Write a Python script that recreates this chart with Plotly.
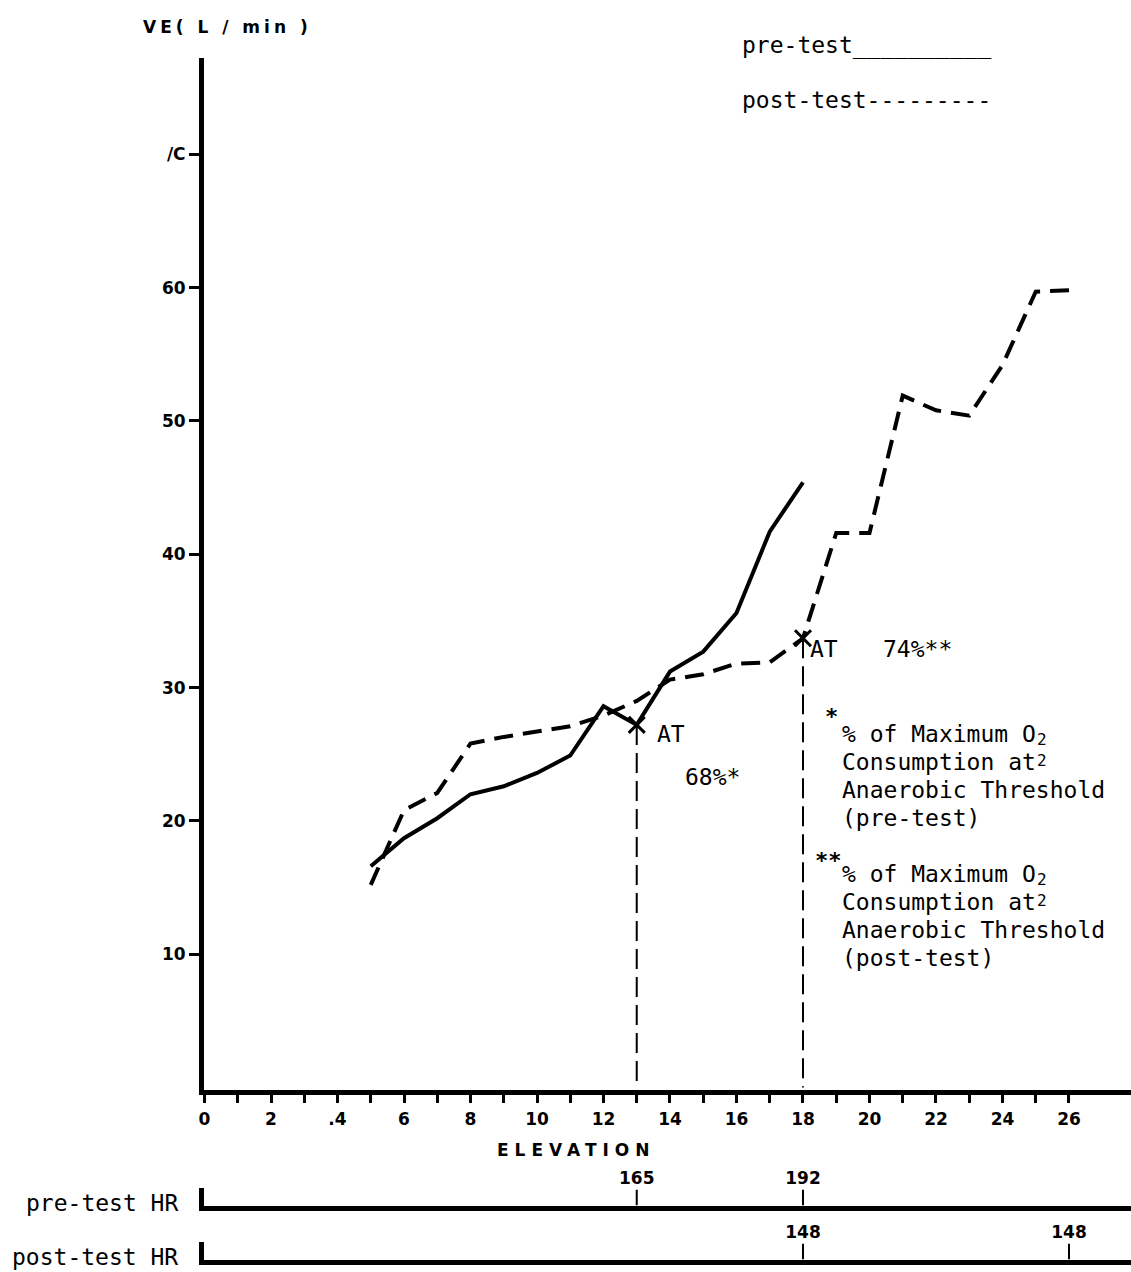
import plotly.graph_objects as go

# ---------------- data ----------------
elevation_pre = [5, 6, 7, 8, 9, 10, 11, 12, 13, 14, 15, 16, 17, 18]
ve_pre = [16.6, 18.7, 20.2, 22.0, 22.6, 23.6, 24.9, 28.6, 27.2, 31.2, 32.7, 35.6, 41.7, 45.4]

elevation_post = [5, 6, 7, 8, 9, 10, 11, 12, 13, 14, 15, 16, 17, 18, 19, 20, 21, 22, 23, 24, 25, 26]
ve_post = [15.2, 20.8, 22.1, 25.8, 26.3, 26.7, 27.1, 27.9, 29.0, 30.6, 31.0, 31.8, 31.9, 33.7,
           41.6, 41.6, 51.9, 50.8, 50.4, 54.2, 59.7, 59.8]

at_elevation = [13, 18]
at_ve = [27.2, 33.7]
at_pct_labels = ["68%*", "74%**"]

hr_pre_elev = [13, 18]
hr_pre_vals = ["165", "192"]
hr_post_elev = [18, 26]
hr_post_vals = ["148", "148"]

x_tickvals = [0, 2, 4, 6, 8, 10, 12, 14, 16, 18, 20, 22, 24, 26]
x_ticktext = ["0", "2", ".4", "6", "8", "10", "12", "14", "16", "18", "20", "22", "24", "26"]
x_minor_tickvals = [1, 3, 5, 7, 9, 11, 13, 15, 17, 19, 21, 23, 25]
y_tickvals = [10, 20, 30, 40, 50, 60, 70]
y_ticktext = ["10", "20", "30", "40", "50", "60", "/C"]

footnote_pre = ["% of Maximum O", "Consumption at", "Anaerobic Threshold", "(pre-test)"]
footnote_post = ["% of Maximum O", "Consumption at", "Anaerobic Threshold", "(post-test)"]
footnote_twos = "2<br>2"   # subscript of O and the stray superscript after "at"

# ---------------- style ----------------
MONO = "DejaVu Sans Mono"
BOLD = "DejaVu Sans"
BLACK = "black"
W, H = 1131, 1272
ML, MR, MT, MB = 204, 0, 58, 4
XR = [-0.015, 27.865]
MONO_SIZE = 23
CHAR_W = 0.602 * MONO_SIZE

fig = go.Figure()

# main curves
fig.add_trace(go.Scatter(x=elevation_pre, y=ve_pre, mode="lines",
                         line=dict(color=BLACK, width=4), xaxis="x", yaxis="y"))
fig.add_trace(go.Scatter(x=elevation_post, y=ve_post, mode="lines",
                         line=dict(color=BLACK, width=4, dash="19px,10px"), xaxis="x", yaxis="y"))

# anaerobic threshold drop lines and markers
for xe, ve in zip(at_elevation, at_ve):
    fig.add_trace(go.Scatter(x=[xe, xe], y=[ve, 0], mode="lines",
                             line=dict(color=BLACK, width=2, dash="20px,8px"), xaxis="x", yaxis="y"))
fig.add_trace(go.Scatter(x=at_elevation, y=at_ve, mode="markers",
                         marker=dict(symbol="x-thin", size=16, line=dict(color=BLACK, width=3)),
                         xaxis="x", yaxis="y"))

# HR strips
def hr_strip(elev, vals, xa, ya):
    xs, ys = [], []
    for e in elev:
        xs += [e, e, None]
        ys += [0, 0.9, None]
    fig.add_trace(go.Scatter(x=xs, y=ys, mode="lines", line=dict(color=BLACK, width=2),
                             xaxis=xa, yaxis=ya))
    fig.add_trace(go.Scatter(x=elev, y=[1.0] * len(elev), mode="text", text=vals,
                             textposition="top center", cliponaxis=False,
                             textfont=dict(family=BOLD, size=17, color=BLACK, weight="bold"),
                             xaxis=xa, yaxis=ya))

hr_strip(hr_pre_elev, hr_pre_vals, "x2", "y2")
hr_strip(hr_post_elev, hr_post_vals, "x3", "y3")

plot_h = H - MT - MB
def py(px):  # pixel row -> paper y
    return (H - MB - px) / plot_h
def pxx(px):  # pixel col -> paper x
    return (px - ML) / (W - ML - MR)

annotations = []
def ann(text, x, y, size=MONO_SIZE, family=MONO, xanchor="left", yanchor="middle", xref="x", yref="y", bold=False):
    annotations.append(dict(text=text, x=x, y=y, xref=xref, yref=yref, showarrow=False,
                            xanchor=xanchor, yanchor=yanchor, align="left",
                            font=dict(family=family, size=size, color=BLACK,
                                      weight="bold" if bold else "normal")))

# AT labels
ann("AT", 13.55, 26.5)
ann(at_pct_labels[0], 14.4, 23.3)
ann("AT", 18.15, 32.9)
ann(at_pct_labels[1], 20.35, 32.9)

# footnotes
def footnote(lines, x0, y0):
    for i, line in enumerate(lines):
        ann(line, pxx(x0), py(y0 + 28 * i), xref="paper", yref="paper")
    x2 = x0 + len(lines[0]) * CHAR_W + 1
    ann(footnote_twos, pxx(x2), py(y0 + 16), size=16, xref="paper", yref="paper")

ann("*", pxx(823), py(716), size=22, yref="paper", xref="paper", bold=True)
footnote(footnote_pre, 840, 734)
ann("**", pxx(813), py(860), size=22, yref="paper", xref="paper", bold=True)
footnote(footnote_post, 840, 874)

# legend text
ann("pre-test__________", pxx(740), py(45), xref="paper", yref="paper")
ann("post-test---------", pxx(740), py(100), xref="paper", yref="paper")

# axis titles
ann('<span style="letter-spacing:4px">VE( L / min )</span>', pxx(227), py(27), size=17, family=BOLD,
    xanchor="center", xref="paper", yref="paper", bold=True)
ann('<span style="letter-spacing:6px">ELEVATION</span>', pxx(576), py(1150), size=17, family=BOLD,
    xanchor="center", xref="paper", yref="paper", bold=True)

# HR labels
ann("pre-test HR", pxx(180), py(1203), xanchor="right", xref="paper", yref="paper")
ann("post-test HR", pxx(180), py(1257), xanchor="right", xref="paper", yref="paper")

tickfont = dict(family=BOLD, size=17, color=BLACK, weight="bold")

fig.update_layout(
    width=W, height=H,
    margin=dict(l=ML, r=MR, t=MT, b=MB, pad=0),
    paper_bgcolor="white", plot_bgcolor="white",
    showlegend=False,
    annotations=annotations,
    xaxis=dict(range=XR, anchor="y", showline=True, linewidth=5, linecolor=BLACK,
               ticks="outside", ticklen=8, tickwidth=3, tickcolor=BLACK,
               tickvals=x_tickvals, ticktext=x_ticktext, tickfont=tickfont, ticklabelstandoff=2,
               minor=dict(tickvals=x_minor_tickvals, ticks="outside", ticklen=8, tickwidth=3,
                          tickcolor=BLACK, showgrid=False),
               showgrid=False, zeroline=False),
    yaxis=dict(range=[-0.1875, 77.23], domain=[py(1090), 1.0], anchor="x",
               showline=True, linewidth=5, linecolor=BLACK,
               ticks="outside", ticklen=10, tickwidth=3, tickcolor=BLACK,
               tickvals=y_tickvals, ticktext=y_ticktext, tickfont=tickfont,
               showgrid=False, zeroline=False),
    xaxis2=dict(matches="x", range=XR, anchor="y2", showline=True, linewidth=5, linecolor=BLACK,
                showticklabels=False, ticks="", showgrid=False, zeroline=False),
    yaxis2=dict(range=[0, 1], domain=[py(1205.5), py(1188)], anchor="x2",
                showline=True, linewidth=5, linecolor=BLACK,
                showticklabels=False, ticks="", showgrid=False, zeroline=False),
    xaxis3=dict(matches="x", range=XR, anchor="y3", showline=True, linewidth=5, linecolor=BLACK,
                showticklabels=False, ticks="", showgrid=False, zeroline=False),
    yaxis3=dict(range=[0, 1], domain=[py(1259.5), py(1242)], anchor="x3",
                showline=True, linewidth=5, linecolor=BLACK,
                showticklabels=False, ticks="", showgrid=False, zeroline=False),
)

fig.write_html("out.html")
